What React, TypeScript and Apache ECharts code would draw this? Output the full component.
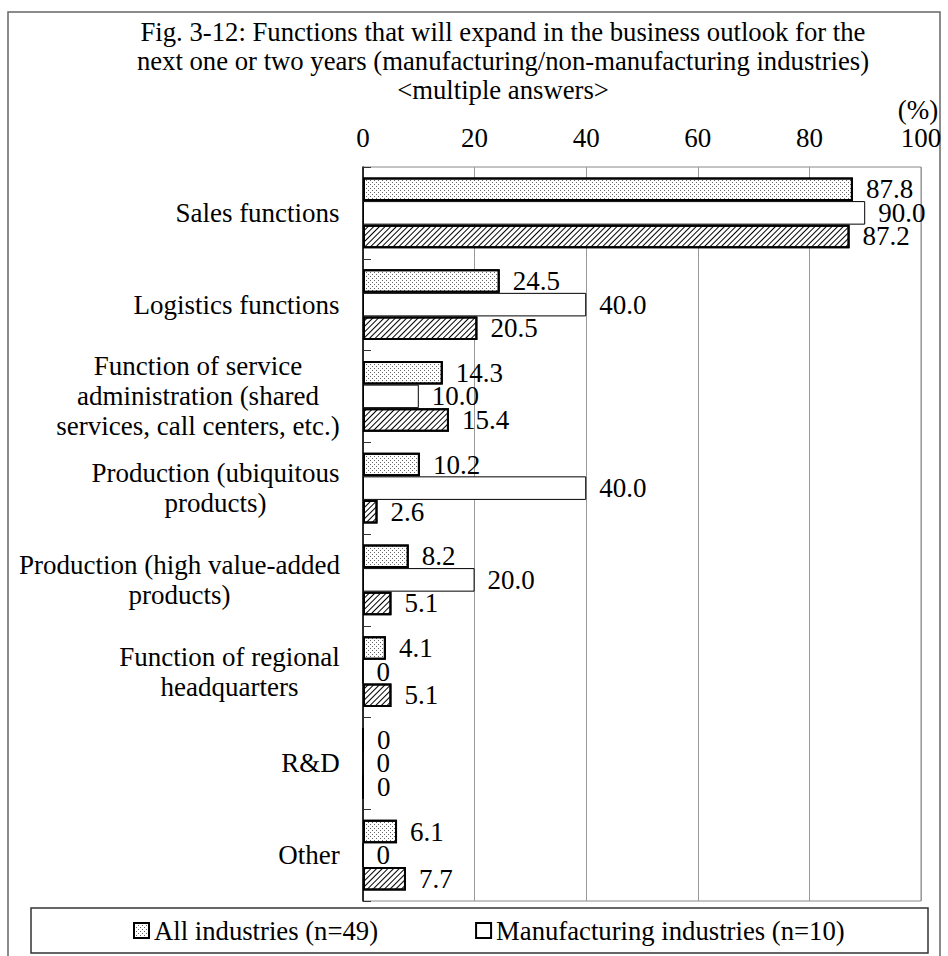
import React, { useEffect, useRef } from "react";
import * as echarts from "echarts";

const categories = [
  "Sales functions",
  "Logistics functions",
  "Function of service\nadministration (shared\nservices, call centers, etc.)",
  "Production (ubiquitous\nproducts)",
  "Production (high value-added\nproducts)",
  "Function of regional\nheadquarters",
  "R&D",
  "Other",
];
const allIndustries = [87.8, 24.5, 14.3, 10.2, 8.2, 4.1, 0, 6.1];
const manufacturing = [90.0, 40.0, 10.0, 40.0, 20.0, 0, 0, 0];
const nonManufacturing = [87.2, 20.5, 15.4, 2.6, 5.1, 5.1, 0, 7.7];
const seriesNames = [
  "All industries (n=49)",
  "Manufacturing industries (n=10)",
  "Non-manufacturing industries (n=39)",
];
const xTicks = [0, 20, 40, 60, 80, 100];
const titleLines = [
  "Fig. 3-12: Functions that will expand in the business outlook for the",
  "next one or two years (manufacturing/non-manufacturing industries)",
  "<multiple answers>",
];

const FONT = "'Liberation Serif', 'Times New Roman', Times, serif";
const FS = 27;

export default function App() {
  const ref = useRef<HTMLDivElement>(null);
  useEffect(() => {
    if (!ref.current) return;
    const chart = echarts.init(ref.current, undefined, { renderer: "svg" });

    const canvas = document.createElement("canvas");
    const ctx = canvas.getContext("2d")!;
    ctx.font = `${FS}px ${FONT}`;
    const rich: Record<string, any> = {};
    categories.forEach((c, i) => {
      const w = Math.max(...c.split("\n").map((l) => ctx.measureText(l).width));
      rich["c" + i] = {
        width: Math.ceil(w) + 2,
        align: "center",
        fontSize: FS,
        lineHeight: 30,
        fontFamily: FONT,
        color: "#000",
      };
    });

    const fmt = (p: any) => (p.value === 0 ? "0" : Number(p.value).toFixed(1));
    const labelCfg = {
      show: true,
      position: "right",
      distance: 13,
      formatter: fmt,
      fontSize: FS,
      fontFamily: FONT,
      color: "#000",
    };

    const option: any = {
      animation: false,
      backgroundColor: "#fff",
      textStyle: { fontFamily: FONT },
      title: {
        text: titleLines.join("\n"),
        left: 503,
        top: 17,
        padding: 0,
        textAlign: "center",
        textStyle: {
          fontSize: 26.7,
          lineHeight: 29,
          fontWeight: "normal",
          fontFamily: FONT,
          color: "#000",
        },
      },
      legend: {
        data: [seriesNames[0], seriesNames[1]],
        left: 133,
        top: 917,
        padding: 0,
        itemWidth: 15,
        itemHeight: 15,
        itemGap: 97,
        icon: "rect",
        textStyle: { fontSize: 26.7, fontFamily: FONT, color: "#000" },
      },
      grid: { left: 363, top: 167, right: 27, bottom: 55, show: true, borderColor: "#888", borderWidth: 1 },
      xAxis: {
        type: "value",
        position: "top",
        min: xTicks[0],
        max: xTicks[xTicks.length - 1],
        interval: 20,
        axisLine: { show: false },
        axisTick: { show: false },
        axisLabel: { fontSize: FS, fontFamily: FONT, color: "#000", margin: 16 },
        splitLine: { show: true, lineStyle: { color: "#999", width: 1 } },
      },
      yAxis: {
        type: "category",
        inverse: true,
        data: categories,
        axisLine: { show: true, lineStyle: { color: "#000", width: 1.5 } },
        axisTick: { show: true, inside: true, length: 8, lineStyle: { color: "#333" } },
        axisLabel: {
          margin: 22,
          formatter: (v: string, i: number) =>
            v.split("\n").map((l) => `{c${i}|${l}}`).join("\n"),
          rich,
        },
      },
      series: [
        {
          name: seriesNames[0],
          type: "bar",
          data: allIndustries,
          barGap: "0%",
          barCategoryGap: "23%",
          itemStyle: {
            color: "#fff",
            borderColor: "#000",
            borderWidth: 2,
            decal: {
              symbol: "rect",
              symbolSize: 1,
              color: "rgba(0,0,0,0.6)",
              dashArrayX: [[1, 3], [0, 2, 1, 1]],
              dashArrayY: [1, 1],
            },
          },
          label: labelCfg,
        },
        {
          name: seriesNames[1],
          type: "bar",
          data: manufacturing,
          barGap: "0%",
          barCategoryGap: "23%",
          itemStyle: { color: "#fff", borderColor: "#000", borderWidth: 1 },
          label: labelCfg,
        },
        {
          name: seriesNames[2],
          type: "bar",
          data: nonManufacturing,
          barGap: "0%",
          barCategoryGap: "23%",
          itemStyle: {
            color: "#fff",
            borderColor: "#000",
            borderWidth: 2,
            decal: {
              symbol: "rect",
              symbolSize: 1,
              color: "#000",
              dashArrayX: [1, 0],
              dashArrayY: [1, 3],
              rotation: -Math.PI / 4,
            },
          },
          label: labelCfg,
        },
      ],
      graphic: [
        {
          type: "rect",
          shape: { x: 8, y: 12, width: 932, height: 960 },
          style: { fill: "none", stroke: "#666", lineWidth: 1.5 },
          silent: true,
          z: -1,
        },
        {
          type: "rect",
          shape: { x: 31, y: 908, width: 897, height: 45 },
          style: { fill: "none", stroke: "#333", lineWidth: 1.5 },
          silent: true,
        },
        {
          type: "text",
          x: 918,
          y: 110,
          style: {
            text: "(%)",
            fontSize: FS,
            fontFamily: FONT,
            fill: "#000",
            align: "center",
            verticalAlign: "middle",
          },
        },
      ],
    };
    chart.setOption(option);
    return () => chart.dispose();
  }, []);
  return (
    <div
      ref={ref}
      style={{ position: "absolute", left: 0, top: 0, width: 948, height: 956 }}
    />
  );
}
